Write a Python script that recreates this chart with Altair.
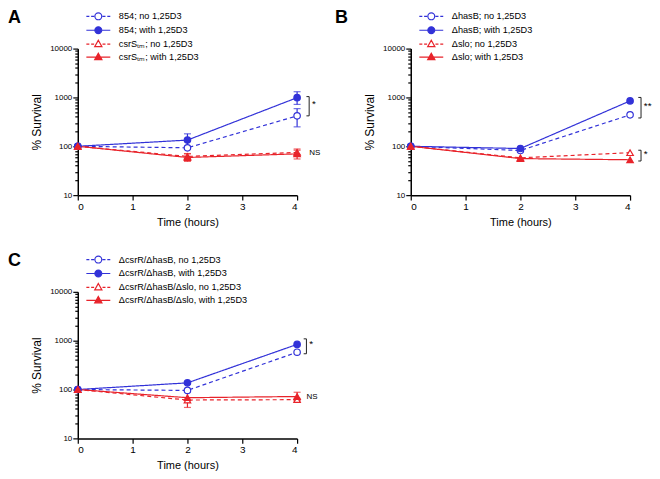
import altair as alt
import pandas as pd

FONT = "Liberation Sans"
BLUE = "#3232d8"
RED = "#e8232a"

times = [0, 2, 4]

# ---------------- Panel A ----------------
a_labels = ["854; no 1,25D3", "854; with 1,25D3",
            "csrSₜₘ; no 1,25D3", "csrSₜₘ; with 1,25D3"]
a_vals = [[100, 93, 420], [100, 134, 990], [100, 62, 75], [100, 59, 70]]
a_lo = [[100, 88, 250], [100, 100, 720], [100, 55, 68], [100, 49, 55]]
a_hi = [[100, 99, 590], [100, 180, 1310], [100, 70, 83], [100, 71, 88]]
a_br_x = [4.22]
a_br_top = [1040]
a_br_bot = [420]
a_br_txt = ["*"]
a_ns_x = [4.22]
a_ns_y = [72]
a_ns_txt = ["NS"]

# ---------------- Panel B ----------------
b_labels = ["ΔhasB; no 1,25D3", "ΔhasB; with 1,25D3",
            "Δslo; no 1,25D3", "Δslo; with 1,25D3"]
b_vals = [[100, 82, 440], [100, 90, 850], [100, 58, 74], [100, 56, 53]]
b_lo = [[100, 82, 440], [100, 90, 850], [100, 58, 74], [100, 56, 53]]
b_hi = [[100, 82, 440], [100, 90, 850], [100, 58, 74], [100, 56, 53]]
b_br_x = [4.2, 4.2]
b_br_top = [1000, 83]
b_br_bot = [380, 50]
b_br_txt = ["**", "*"]
b_ns_x = []
b_ns_y = []
b_ns_txt = []

# ---------------- Panel C ----------------
c_labels = ["ΔcsrR/ΔhasB, no 1,25D3", "ΔcsrR/ΔhasB, with 1,25D3",
            "ΔcsrR/ΔhasB/Δslo, no 1,25D3", "ΔcsrR/ΔhasB/Δslo, with 1,25D3"]
c_vals = [[100, 96, 580], [100, 137, 840], [100, 61, 62], [100, 68, 72]]
c_lo = [[100, 96, 580], [100, 130, 840], [100, 55, 58], [100, 43, 60]]
c_hi = [[100, 96, 580], [100, 145, 840], [100, 68, 66], [100, 90, 88]]
c_br_x = [4.17]
c_br_top = [1090]
c_br_bot = [540]
c_br_txt = ["*"]
c_ns_x = [4.17]
c_ns_y = [70]
c_ns_txt = ["NS"]

colors = [BLUE, BLUE, RED, RED]
fills = ["white", BLUE, "white", RED]
point_shapes = ["circle", "circle", "triangle-up", "triangle-up"]
dashes = [[4, 3], [1, 0], [4, 3], [1, 0]]
legend_paths = [
    "M-4,0H-3M-2.4,0H-1.4M1.4,0H2.4M3,0H4M1.15,0A1.15,1.15 0 1,1 -1.15,0A1.15,1.15 0 1,1 1.15,0Z",
    "M-4,0H-1.1M1.1,0H4M1.15,0A1.15,1.15 0 1,1 -1.15,0A1.15,1.15 0 1,1 1.15,0Z",
    "M-4,0H-3M-2.4,0H-1.4M1.4,0H2.4M3,0H4M0,-1.3L1.2,0.8L-1.2,0.8Z",
    "M-4,0H-0.7M0.7,0H4M0,-1.3L1.2,0.8L-1.2,0.8Z",
]

yvals = [m * d for d in (10, 100, 1000) for m in range(1, 10)] + [10000]
MAJOR = "indexof([10,100,1000,10000], datum.value) >= 0"

XS = alt.Scale(domain=[0, 4], nice=False)
YS = alt.Scale(type="log", domain=[10, 10000], nice=False)


def xenc(field="t"):
    return alt.X(f"{field}:Q", scale=XS, axis=alt.Axis(
        values=[0, 1, 2, 3, 4], format="d", title="Time (hours)",
        labelFontSize=10, titleFontSize=11, titleFontWeight="normal",
        tickSize=5, labelPadding=1, titlePadding=5, grid=False))


def yenc(field="v"):
    return alt.Y(f"{field}:Q", scale=YS, axis=alt.Axis(
        values=yvals, format="d",
        labelExpr=f"{MAJOR} ? datum.label : ''",
        tickSize={"condition": {"test": MAJOR, "value": 5}, "value": 3},
        title="% Survival", labelFontSize=8, titleFontSize=12,
        titleFontWeight="normal", labelPadding=1, titlePadding=6, grid=False))


def panel(letter, letter_dx, labels, vals, los, his, brx, brt, brb, brtxt,
          nsx, nsy, nstxt):
    rows = []
    for lab, v, lo, hi in zip(labels, vals, los, his):
        for t, vv, l, h in zip(times, v, lo, hi):
            rows.append({"series": lab, "t": t, "v": vv, "lo": l, "hi": h})
    df = pd.DataFrame(rows)
    err = df[df["lo"] != df["hi"]]

    def sc(rng):
        return alt.Scale(domain=labels, range=rng)

    lines = alt.Chart(df).mark_line(strokeWidth=1.2).encode(
        x=xenc(), y=yenc(),
        color=alt.Color("series:N", scale=sc(colors), legend=None),
        strokeDash=alt.StrokeDash("series:N", scale=sc(dashes), legend=None),
        detail="series:N",
    )
    layers = [lines]
    if len(err):
        layers.append(alt.Chart(err).mark_rule(strokeWidth=1.2).encode(
            x=xenc(), y=yenc("lo"), y2="hi",
            color=alt.Color("series:N", scale=sc(colors), legend=None)))
        for f in ("lo", "hi"):
            layers.append(alt.Chart(err).mark_tick(
                orient="horizontal", size=7, thickness=1.2).encode(
                x=xenc(), y=yenc(f),
                color=alt.Color("series:N", scale=sc(colors), legend=None)))
    points = alt.Chart(df).mark_point(size=42, strokeWidth=1.2, opacity=1).encode(
        x=xenc(), y=yenc(),
        shape=alt.Shape("series:N", scale=sc(point_shapes), legend=None),
        stroke=alt.Stroke("series:N", scale=sc(colors), legend=None),
        fill=alt.Fill("series:N", scale=sc(fills), legend=None),
    )
    layers.append(points)

    leg = alt.Legend(orient="none", legendX=16, legendY=-37, title=None,
                     labelFontSize=9.2, labelFont=FONT, symbolSize=36,
                     symbolStrokeWidth=1.2, labelOffset=16, rowPadding=1,
                     symbolOpacity=1, padding=0, labelLimit=300)
    legdf = pd.DataFrame({"series": labels, "t": [0] * 4, "v": [100] * 4})
    layers.append(alt.Chart(legdf).mark_point(size=36, opacity=0).encode(
        x=xenc(), y=yenc(),
        shape=alt.Shape("series:N", scale=sc(legend_paths), legend=leg),
        color=alt.Color("series:N", scale=sc(colors), legend=leg),
        fill=alt.Fill("series:N", scale=sc(fills), legend=leg),
    ))

    br = pd.DataFrame({"bx": brx, "top": brt, "bot": brb, "txt": brtxt})
    br["bxl"] = br["bx"] - 0.05
    br["tx"] = br["bx"] + 0.05
    br["mid"] = (br["top"] * br["bot"]) ** 0.5
    layers.append(alt.Chart(br).mark_rule(color="#222", strokeWidth=1).encode(
        x=xenc("bx"), y=yenc("top"), y2="bot"))
    for f in ("top", "bot"):
        layers.append(alt.Chart(br).mark_rule(color="#222", strokeWidth=1).encode(
            x=xenc("bxl"), x2="bx", y=yenc(f)))
    layers.append(alt.Chart(br).mark_text(align="left", baseline="middle",
                                          fontSize=10, font=FONT, dy=-2).encode(
        x=xenc("tx"), y=yenc("mid"), text="txt:N"))
    if nsx:
        ns = pd.DataFrame({"x": nsx, "y": nsy, "txt": nstxt})
        layers.append(alt.Chart(ns).mark_text(align="left", baseline="middle",
                                              fontSize=8, font=FONT).encode(
            x=xenc("x"), y=yenc("y"), text="txt:N"))

    return alt.layer(*layers).resolve_scale(
        color="independent", shape="independent", fill="independent",
        stroke="independent", strokeDash="independent",
    ).properties(
        width=220, height=147,
        title=alt.TitleParams(letter, anchor="start", frame="group", fontSize=18,
                              fontWeight="bold", font=FONT, dx=letter_dx, dy=15,
                              offset=0),
    )


pA = panel("A", -70, a_labels, a_vals, a_lo, a_hi, a_br_x, a_br_top, a_br_bot,
           a_br_txt, a_ns_x, a_ns_y, a_ns_txt)
pB = panel("B", -76, b_labels, b_vals, b_lo, b_hi, b_br_x, b_br_top, b_br_bot,
           b_br_txt, b_ns_x, b_ns_y, b_ns_txt)
pC = panel("C", -70, c_labels, c_vals, c_lo, c_hi, c_br_x, c_br_top, c_br_bot,
           c_br_txt, c_ns_x, c_ns_y, c_ns_txt)

chart = alt.concat(pA, pB, pC, columns=2, spacing={"row": 97, "column": 114},
                   bounds="flush").properties(padding=0).configure_view(
    stroke=None).configure_axis(
    domainColor="black", tickColor="black", labelColor="black", titleColor="black",
    domainWidth=1.5, tickWidth=1.2, labelFont=FONT, titleFont=FONT,
).configure_legend(labelColor="black")

chart.save("out.html", embed_options={"renderer": "svg", "actions": False})
